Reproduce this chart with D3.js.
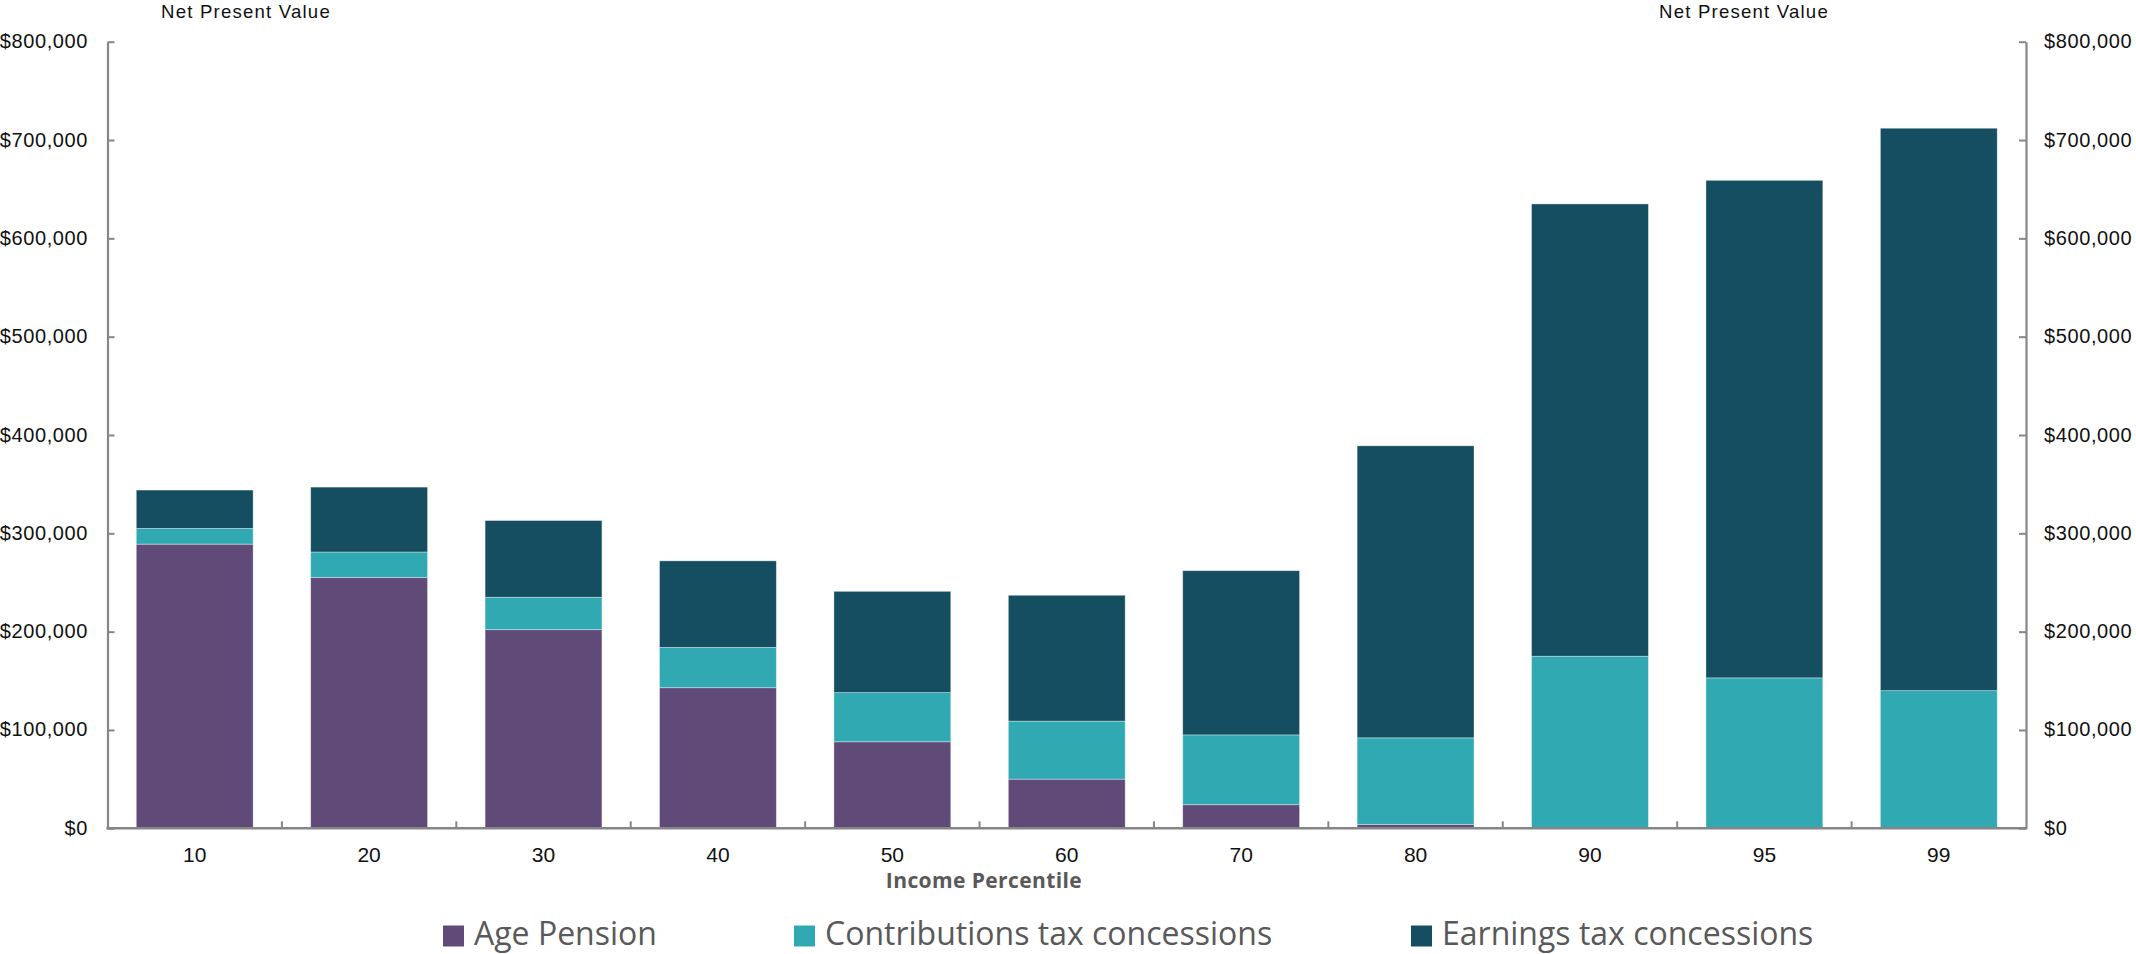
<!DOCTYPE html>
<html>
<head>
<meta charset="utf-8">
<script src="https://cdn.jsdelivr.net/npm/d3@7"></script>
<style>
  html, body { margin: 0; padding: 0; background: #ffffff; }
  svg { display: block; }
</style>
</head>
<body>
<svg id="chart" width="2136" height="954"></svg>
<script>
// Income percentiles along the x axis
const percentiles = ["10", "20", "30", "40", "50", "60", "70", "80", "90", "95", "99"];

// Net present value of each component, by percentile ($)
const agePension     = [289000, 255000, 202000, 143000, 88000, 50000, 24000, 4000, 0, 0, 0];
const contributions  = [16000, 26000, 33000, 41000, 50000, 59000, 71000, 88000, 175000, 153000, 140000];
const earnings       = [39000, 66000, 78000, 88000, 103000, 128000, 167000, 297000, 460000, 506000, 572000];

// Series names and fills, bottom to top of each stack
const seriesNames  = ["Age Pension", "Contributions tax concessions", "Earnings tax concessions"];
const seriesColors = ["#604a78", "#30a9b3", "#164e61"];

// Value axis ticks
const yTicks = [0, 100000, 200000, 300000, 400000, 500000, 600000, 700000, 800000];

const svg = d3.select("#chart");

const plot = { left: 107.5, right: 2026, top: 41.7, bottom: 828.3 };
const axisColor = "#868686";
const tickFont = "'Liberation Sans', Arial, sans-serif";

const rows = percentiles.map((p, i) => ({
  p,
  "Age Pension": agePension[i],
  "Contributions tax concessions": contributions[i],
  "Earnings tax concessions": earnings[i]
}));

const stacked = d3.stack().keys(seriesNames)(rows);

const x = d3.scaleBand()
  .domain(percentiles)
  .range([plot.left, plot.right])
  .paddingInner(0.33)
  .paddingOuter(0.165);

const y = d3.scaleLinear()
  .domain([0, 800000])
  .range([plot.bottom, plot.top]);

const color = d3.scaleOrdinal().domain(seriesNames).range(seriesColors);

// Stacked bars
svg.append("g")
  .selectAll("g")
  .data(stacked)
  .join("g")
  .attr("fill", d => color(d.key))
  .selectAll("rect")
  .data(d => d)
  .join("rect")
  .attr("x", d => x(d.data.p))
  .attr("width", x.bandwidth())
  .attr("y", d => y(d[1]))
  .attr("height", d => Math.max(0, y(d[0]) - y(d[1])))
  .attr("stroke", "#ffffff")
  .attr("stroke-opacity", 0.45)
  .attr("stroke-width", 0.8);

const money = v => "$" + d3.format(",")(v);

// Left value axis, ticks pointing into the plot
const leftAxis = svg.append("g")
  .attr("transform", `translate(${plot.left},0)`)
  .call(d3.axisLeft(y).tickValues(yTicks).tickFormat(money)
    .tickSizeInner(-7).tickSizeOuter(0).tickPadding(19.5));

// Right value axis, mirrored
const rightAxis = svg.append("g")
  .attr("transform", `translate(${plot.right},0)`)
  .call(d3.axisRight(y).tickValues(yTicks).tickFormat(money)
    .tickSizeInner(-7).tickSizeOuter(0).tickPadding(18));

[leftAxis, rightAxis].forEach(g => {
  g.select(".domain").attr("stroke", axisColor).attr("stroke-width", 2.2);
  g.selectAll(".tick line").attr("stroke", axisColor).attr("stroke-width", 2);
  g.selectAll(".tick text")
    .attr("fill", "#111111")
    .attr("font-family", tickFont)
    .attr("font-size", 20)
    .attr("letter-spacing", "0.6px")
    .attr("dy", "0.3em");
});

// Category axis along the bottom
const xAxis = svg.append("g")
  .attr("transform", `translate(0,${plot.bottom})`)
  .call(d3.axisBottom(x).tickSize(0).tickPadding(19));
xAxis.select(".domain").remove();
xAxis.selectAll(".tick text")
  .attr("fill", "#111111")
  .attr("font-family", tickFont)
  .attr("font-size", 21)
  .attr("dy", "0.71em");

svg.append("line")
  .attr("x1", plot.left - 1.1).attr("x2", plot.right + 1.1)
  .attr("y1", plot.bottom).attr("y2", plot.bottom)
  .attr("stroke", axisColor).attr("stroke-width", 2.6);

// Tick marks between categories, pointing upward
const step = x.step();
const boundaries = percentiles.slice(1).map(p => x(p) - step * x.paddingInner() / 2);
svg.append("g")
  .selectAll("line")
  .data(boundaries)
  .join("line")
  .attr("x1", d => d).attr("x2", d => d)
  .attr("y1", plot.bottom).attr("y2", plot.bottom - 7)
  .attr("stroke", axisColor).attr("stroke-width", 2);

// Axis unit captions
const caption = (cx, text) => svg.append("text")
  .attr("x", cx).attr("y", 18.3)
  .attr("text-anchor", "middle")
  .attr("font-family", tickFont)
  .attr("font-size", 18.6)
  .attr("letter-spacing", "1.2px")
  .attr("fill", "#111111")
  .text(text);
caption(246, "Net Present Value");
caption(1744, "Net Present Value");

// x axis title
svg.append("text")
  .attr("x", 984).attr("y", 888)
  .attr("text-anchor", "middle")
  .attr("font-family", "'Open Sans', sans-serif")
  .attr("font-weight", 700)
  .attr("font-size", 21)
  .attr("letter-spacing", "0.4px")
  .attr("fill", "#595959")
  .text("Income Percentile");

// Legend
const legendX = [443, 794, 1411];
const legend = svg.append("g")
  .selectAll("g")
  .data(seriesNames)
  .join("g")
  .attr("transform", (d, i) => `translate(${legendX[i]},0)`);
legend.append("rect")
  .attr("x", 0).attr("y", 925.5)
  .attr("width", 21).attr("height", 21)
  .attr("fill", d => color(d));
legend.append("text")
  .attr("x", 31).attr("y", 945)
  .attr("font-family", "'Open Sans', sans-serif")
  .attr("font-size", 32)
  .attr("fill", "#595959")
  .text(d => d);
</script>
</body>
</html>
